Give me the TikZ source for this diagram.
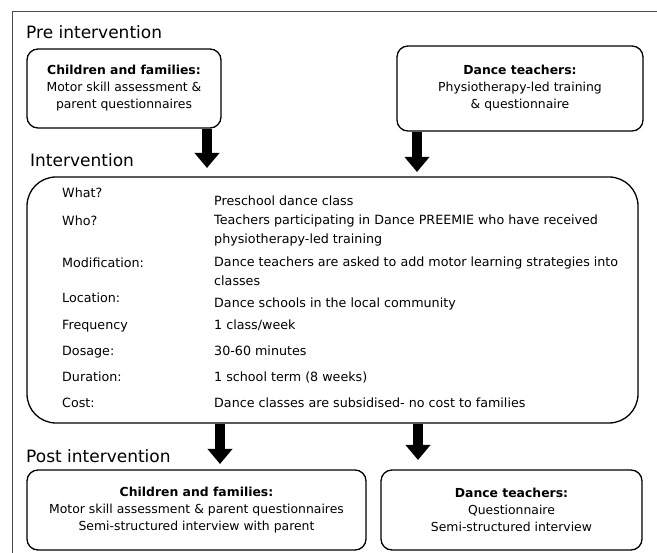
\documentclass[tikz,border=0pt]{standalone}
\usepackage{fontspec}
\setmainfont{DejaVu Sans}
\usetikzlibrary{arrows.meta}
\begin{document}
\begin{tikzpicture}[x=1pt,y=-1pt,
  box/.style={draw, line width=1.3pt, rounded corners=11pt, align=center, inner sep=0pt,
    font=\fontsize{12.4}{17}\selectfont},
  bigbox/.style={draw, line width=1.3pt, rounded corners=29pt, inner sep=0pt},
  heading/.style={anchor=base west, inner sep=0pt, font=\fontsize{17}{20}\selectfont},
  lab/.style={anchor=mid west, inner sep=0pt, font=\fontsize{12.7}{15}\selectfont},
  val/.style={anchor=mid west, inner sep=0pt, align=left, font=\fontsize{12.7}{18.5}\selectfont},
  blockarrow/.style={line width=10pt, -{Triangle[width=24pt,length=15pt]}},
  frame/.style={draw=black!70, line width=0.9pt}]
\useasboundingbox (0,0) rectangle (657,553);
\path[frame] (12,553) -- (12,11) -- (657,11);

% headings
\node[heading] (hpre) at (26,39) {Pre intervention};
\node[heading] (hint) at (30,167) {Intervention};
\node[heading] (hpost) at (26,463) {Post intervention};

% pre boxes
\node[box, minimum width=194pt, minimum height=79pt] (pre1) at (124,88.5)
  {\textbf{Children and families:}\\Motor skill assessment \&\\parent questionnaires};
\node[box, minimum width=246pt, minimum height=85pt] (pre2) at (520,88.5)
  {\textbf{Dance teachers:}\\Physiotherapy-led training\\\& questionnaire};

% intervention box
\node[bigbox, minimum width=611pt, minimum height=246pt] (int) at (332.5,300) {};

\node[lab] (l1) at (62,195) {What?};
\node[val] (v1) at (214,203) {Preschool dance class};
\node[lab] (l2) at (62,223) {Who?};
\node[val, anchor=north west] (v2) at (214,215) {Teachers participating in Dance PREEMIE who have received\\physiotherapy-led training};
\node[lab] (l3) at (62,265) {Modification:};
\node[val, anchor=north west] (v3) at (214,257) {Dance teachers are asked to add motor learning strategies into\\classes};
\node[lab] (l4) at (62,300) {Location:};
\node[val] (v4) at (214,305) {Dance schools in the local community};
\node[lab] (l5) at (62,327) {Frequency};
\node[val] (v5) at (214,327) {1 class/week};
\node[lab] (l6) at (62,353) {Dosage:};
\node[val] (v6) at (214,353) {30-60 minutes};
\node[lab] (l7) at (62,379) {Duration:};
\node[val] (v7) at (214,379) {1 school term (8 weeks)};
\node[lab] (l8) at (62,405) {Cost:};
\node[val] (v8) at (214,405) {Dance classes are subsidised- no cost to families};

% post boxes
\node[box, minimum width=339pt, minimum height=80pt] (post1) at (196.5,510)
  {\textbf{Children and families:}\\Motor skill assessment \& parent questionnaires\\Semi-structured interview with parent};
\node[box, minimum width=261pt, minimum height=80pt] (post2) at (511.5,510)
  {\textbf{Dance teachers:}\\Questionnaire\\Semi-structured interview};

% arrows
\coordinate (t1) at (207,168);
\coordinate (t2) at (417,172);
\coordinate (t3) at (220,464);
\coordinate (t4) at (418,460);
\draw[blockarrow] (pre1.south -| t1) -- (t1);
\draw[blockarrow] (pre2.south -| t2) -- (t2);
\draw[blockarrow] (int.south -| t3) -- (t3);
\draw[blockarrow] (int.south -| t4) -- (t4);
\end{tikzpicture}
\end{document}
